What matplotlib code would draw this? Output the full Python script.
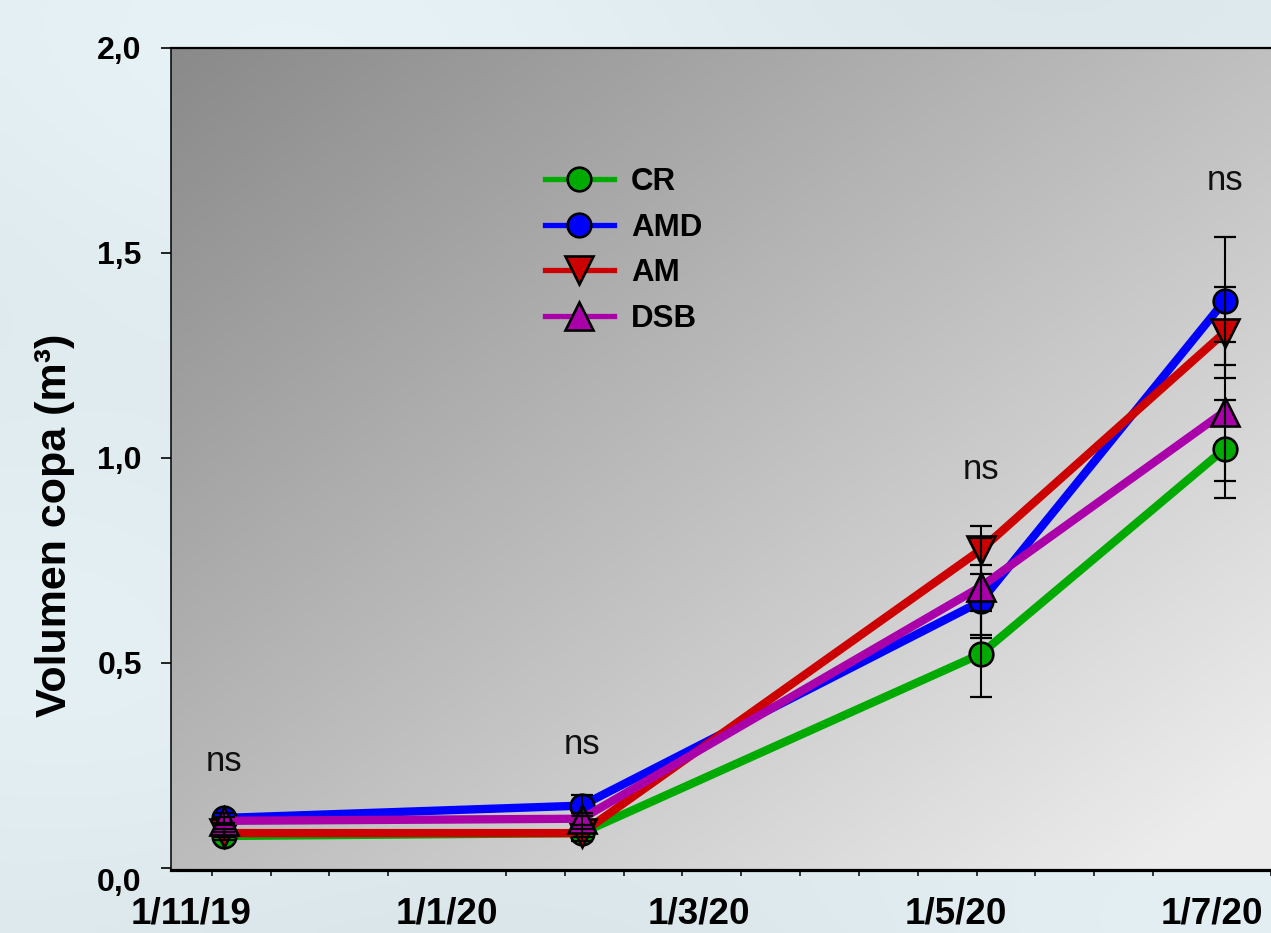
import datetime as dt

import matplotlib
matplotlib.use("Agg")
import matplotlib.pyplot as plt
import matplotlib.dates as mdates
import matplotlib.transforms as mtransforms
import numpy as np
from matplotlib.lines import Line2D
from matplotlib.ticker import FixedLocator

plt.rcParams["font.family"] = ["Liberation Sans", "DejaVu Sans"]

# ---- data -------------------------------------------------------------
sample_dates = ["2019-11-09", "2020-02-02", "2020-05-07", "2020-07-04"]

series_names = ["CR", "AMD", "AM", "DSB"]
cr_mean = [0.078, 0.085, 0.522, 1.022]
cr_se = [0.010, 0.010, 0.105, 0.120]
amd_mean = [0.122, 0.152, 0.650, 1.383]
amd_se = [0.012, 0.025, 0.088, 0.155]
am_mean = [0.085, 0.085, 0.776, 1.306]
am_se = [0.010, 0.020, 0.058, 0.110]
dsb_mean = [0.115, 0.120, 0.686, 1.113]
dsb_se = [0.010, 0.015, 0.118, 0.170]

sig_labels = ["ns", "ns", "ns", "ns"]
sig_heights = [0.259, 0.300, 0.971, 1.676]

x_label_dates = ["2019-11-01", "2020-01-01", "2020-03-01", "2020-05-01", "2020-07-01"]
x_tick_labels = ["1/11/19", "1/1/20", "1/3/20", "1/5/20", "1/7/20"]
y_ticks = [0.0, 0.5, 1.0, 1.5, 2.0]
y_tick_labels = ["0,0", "0,5", "1,0", "1,5", "2,0"]

# ---- styling ----------------------------------------------------------
colors = ["#00aa00", "#0000ff", "#cc0000", "#aa00aa"]
markers = ["o", "o", "v", "^"]
marker_sizes = [17, 17, 20, 20]
legend_marker_sizes = [17, 17, 20, 20]

W, H = 1271, 933
fig = plt.figure(figsize=(W / 100, H / 100), dpi=100)
fig.patch.set_facecolor("#dfe9ec")

left_px, right_px, top_px, bottom_px = 171, 1271, 48, 870
pos = [left_px / W, 1 - bottom_px / H, (right_px - left_px) / W, (bottom_px - top_px) / H]

# soft backdrop across the figure
bgfig = fig.add_axes([0, 0, 1, 1], zorder=-2)
yy, xx = np.mgrid[0:1:120j, 0:1:160j]
base = np.array([222, 233, 237]) / 255.0
shade = 0.012 * np.sin(6 * xx + 2 * yy) + 0.01 * np.cos(9 * yy - 3 * xx) + 0.015 * (1 - yy)
fig_img = np.clip(base[None, None, :] + shade[:, :, None], 0, 1)
bgfig.imshow(fig_img, extent=[0, 1, 0, 1], aspect="auto", interpolation="bicubic")
bgfig.axis("off")

# diagonal grey gradient behind the plotting area
bg = fig.add_axes(pos, zorder=0)
u = np.linspace(0, 1, 300)
v = np.linspace(1, 0, 300)
val = 138 + 54 * u[None, :] + 50 * (1 - v)[:, None]
val = np.clip(val, 0, 236) / 255.0
bg.imshow(np.dstack([val, val, val]), extent=[0, 1, 0, 1], aspect="auto",
          interpolation="bilinear")
bg.axis("off")

ax = fig.add_axes(pos, zorder=1)
ax.patch.set_alpha(0)

x = mdates.date2num([dt.datetime.strptime(d, "%Y-%m-%d") for d in sample_dates])
means = [cr_mean, amd_mean, am_mean, dsb_mean]
errs = [cr_se, amd_se, am_se, dsb_se]

for i, (name, m, e) in enumerate(zip(series_names, means, errs)):
    ax.plot(x, m, color=colors[i], lw=6, marker=markers[i], ms=marker_sizes[i],
            mfc=colors[i], mec="black", mew=1.9, zorder=2 + i, solid_capstyle="butt")
for m, e in zip(means, errs):
    ax.errorbar(x, m, yerr=e, fmt="none", ecolor="black", elinewidth=1.5,
                capsize=8, capthick=1.6, zorder=10)

for xi, lab, h in zip(x, sig_labels, sig_heights):
    ax.text(xi, h, lab, ha="center", va="center", fontsize=25, color="#111111")

# axes limits and ticks
d0 = mdates.date2num(dt.datetime(2020, 1, 1))
ax.set_xlim(d0 - 65.7, d0 + 196.05)
ax.set_ylim(-0.005, 2.0)

label_pos = mdates.date2num([dt.datetime.strptime(d, "%Y-%m-%d") for d in x_label_dates])
ax.xaxis.set_major_locator(FixedLocator(label_pos))
ax.set_xticklabels(x_tick_labels, fontsize=26.5, fontweight="bold")
minor = np.arange(mdates.date2num(dt.datetime(2019, 11, 6)), d0 + 197, 14)
ax.xaxis.set_minor_locator(FixedLocator(minor))
ax.tick_params(axis="x", which="major", length=0, pad=19)
ax.tick_params(axis="x", which="minor", direction="out", length=4.5, width=1.1)

ax.set_yticks(y_ticks)
ax.set_yticklabels(y_tick_labels, fontsize=23, fontweight="bold")
ax.tick_params(axis="y", direction="out", length=7, width=1.2, pad=14)
# the lowest value label sits a little below its tick
zero_lab = ax.get_yticklabels()[0]
zero_lab.set_transform(zero_lab.get_transform() +
                       mtransforms.ScaledTranslation(0, -12 / 100, fig.dpi_scale_trans))

ax.spines["right"].set_visible(False)
ax.spines["top"].set_linewidth(1.6)
ax.spines["left"].set_linewidth(1.1)
ax.spines["bottom"].set_linewidth(2.3)

fig.text(55 / W, 1 - 525 / H, "Volumen copa (m³)", rotation=90, ha="center",
         va="center", fontsize=31, fontweight="bold")

# legend with thinner lines than the data traces
handles = [Line2D([], [], color=colors[i], lw=3.8, marker=markers[i],
                  ms=legend_marker_sizes[i], mfc=colors[i], mec="black", mew=1.9)
           for i in range(len(series_names))]
fig.legend(handles, series_names, loc="upper left",
           bbox_to_anchor=(545 / W, 1 - 167 / H), bbox_transform=fig.transFigure,
           frameon=False, borderpad=0, borderaxespad=0, handlelength=2.2,
           handletextpad=0.55, labelspacing=0.5,
           prop={"size": 22.5, "weight": "bold"})

fig.savefig("out.png", dpi=100, facecolor=fig.get_facecolor())
